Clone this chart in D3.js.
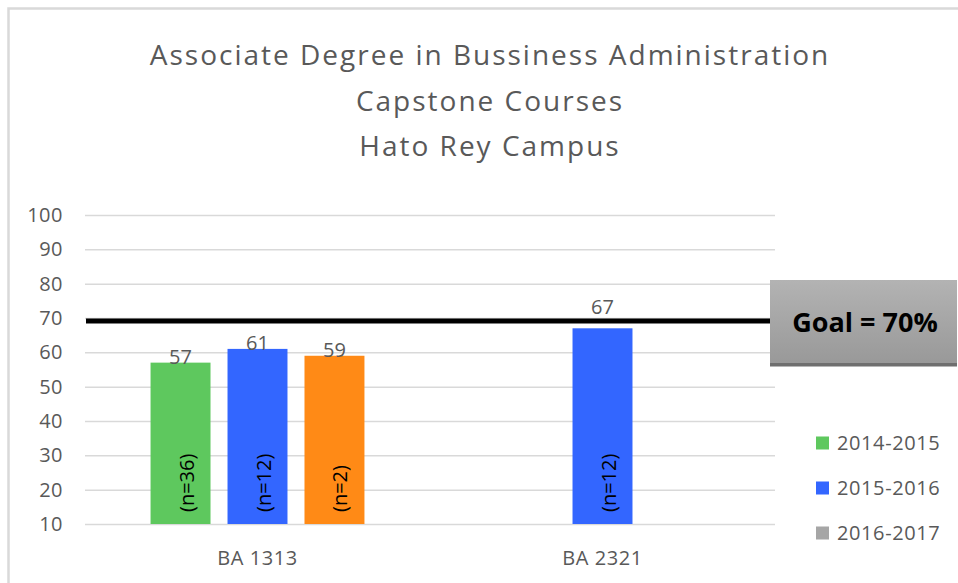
<!DOCTYPE html>
<html>
<head>
<meta charset="utf-8">
<script src="https://cdn.jsdelivr.net/npm/d3@7"></script>
<style>
  html, body { margin: 0; padding: 0; background: #fff; }
  svg { display: block; font-family: "Open Sans", Lato, sans-serif; }
</style>
</head>
<body>
<svg id="chart"></svg>
<script>
// chart data
const categories = ["BA 1313", "BA 2321"];
const seriesNames = ["2014-2015", "2015-2016", "2016-2017"];
const values2014 = [57, null];
const values2015 = [61, 67];
const values2016 = [59, null];
const counts2014 = [36, null];
const counts2015 = [12, 12];
const counts2016 = [2, null];
const yTicks = [10, 20, 30, 40, 50, 60, 70, 80, 90, 100];
const titleLines = ["Associate Degree in Bussiness Administration", "Capstone Courses", "Hato Rey Campus"];
const goalLabel = "Goal = 70%";
const goalLineValue = 69.1; // where the drawn goal line sits

// colours
const legendColors = ["#5ec85e", "#3366ff", "#a6a6a6"];
const barColors = ["#5ec85e", "#3366ff", "#ff8a16"]; // 2016-2017 bar recoloured orange in the source
const textGray = "#595959";

const width = 958, height = 583;
const svg = d3.select("#chart").attr("width", width).attr("height", height);

// plot area
const plot = { left: 85, right: 775, top: 215, bottom: 524 };

const x = d3.scaleBand()
  .domain(categories)
  .range([plot.left, plot.right])
  .paddingInner(0.38)
  .paddingOuter(0.19);

const xInner = d3.scaleBand()
  .domain(seriesNames)
  .range([0, x.bandwidth()])
  .paddingInner(0.221);

const y = d3.scaleLinear()
  .domain([10, 100])
  .range([plot.bottom, plot.top]);

// outer chart border
svg.append("rect")
  .attr("x", 8.5).attr("y", 8.5)
  .attr("width", width + 20).attr("height", height + 20)
  .attr("fill", "none")
  .attr("stroke", "#d9d9d9")
  .attr("stroke-width", 2.5);

// title
svg.append("g").selectAll("text")
  .data(titleLines)
  .join("text")
  .attr("x", 490)
  .attr("y", (d, i) => 65 + i * 45.5)
  .attr("text-anchor", "middle")
  .attr("fill", textGray)
  .style("font-size", "28px")
  .style("letter-spacing", "2px")
  .text(d => d);

// y axis with gridlines
const yAxis = d3.axisLeft(y)
  .tickValues(yTicks)
  .tickSize(-(plot.right - plot.left))
  .tickPadding(22);

const axisG = svg.append("g")
  .attr("transform", `translate(${plot.left},0)`)
  .call(yAxis);
axisG.select(".domain").remove();
axisG.selectAll(".tick line").attr("stroke", "#d9d9d9").attr("stroke-width", 1.5);
axisG.selectAll(".tick text")
  .attr("fill", textGray)
  .style("font-size", "20px")
  .style("letter-spacing", "0.5px")
  .style("font-family", "'Open Sans', Lato, sans-serif");

// category labels
svg.append("g").selectAll("text")
  .data(categories)
  .join("text")
  .attr("x", d => x(d) + x.bandwidth() / 2)
  .attr("y", 565)
  .attr("text-anchor", "middle")
  .attr("fill", textGray)
  .style("font-size", "20px")
  .style("letter-spacing", "0.6px")
  .text(d => d);

// flatten bars
const allValues = [values2014, values2015, values2016];
const allCounts = [counts2014, counts2015, counts2016];
const labelLift = [[0, null], [0, 15], [0, null]]; // "67" was moved above the goal line
const bars = [];
seriesNames.forEach((s, si) => {
  categories.forEach((c, ci) => {
    const v = allValues[si][ci];
    if (v == null) return;
    bars.push({ series: s, si, cat: c, value: v, n: allCounts[si][ci], lift: labelLift[si][ci] });
  });
});

const barG = svg.append("g");
barG.selectAll("rect")
  .data(bars)
  .join("rect")
  .attr("x", d => x(d.cat) + xInner(d.series))
  .attr("y", d => y(d.value))
  .attr("width", xInner.bandwidth())
  .attr("height", d => y(10) - y(d.value))
  .attr("fill", d => barColors[d.si]);

// value labels
barG.selectAll("text.value")
  .data(bars)
  .join("text")
  .attr("class", "value")
  .attr("x", d => x(d.cat) + xInner(d.series) + xInner.bandwidth() / 2)
  .attr("y", d => y(d.value) + 1 - d.lift)
  .attr("text-anchor", "middle")
  .attr("fill", textGray)
  .style("font-size", "20px")
  .text(d => d.value);

// n labels inside the bars, rotated
barG.selectAll("text.count")
  .data(bars)
  .join("text")
  .attr("class", "count")
  .attr("transform", d => `translate(${x(d.cat) + xInner(d.series) + xInner.bandwidth() / 2 + 13},${y(10) - 12}) rotate(-90)`)
  .attr("text-anchor", "start")
  .attr("fill", "#000")
  .style("font-size", "20px")
  .text(d => `(n=${d.n})`);

// goal line
svg.append("line")
  .attr("x1", plot.left + 1)
  .attr("x2", 772)
  .attr("y1", y(goalLineValue))
  .attr("y2", y(goalLineValue))
  .attr("stroke", "#000")
  .attr("stroke-width", 5);

// goal box
const defs = svg.append("defs");
const grad = defs.append("linearGradient")
  .attr("id", "goalGrad")
  .attr("x1", 0).attr("y1", 0).attr("x2", 0).attr("y2", 1);
grad.append("stop").attr("offset", "0%").attr("stop-color", "#b3b3b3");
grad.append("stop").attr("offset", "100%").attr("stop-color", "#999999");

const goalG = svg.append("g");
goalG.append("rect")
  .attr("x", 770).attr("y", 363)
  .attr("width", 187).attr("height", 3.5)
  .attr("fill", "#6f6f6f");
goalG.append("rect")
  .attr("x", 770).attr("y", 280)
  .attr("width", 187).attr("height", 83)
  .attr("fill", "url(#goalGrad)");
goalG.append("text")
  .attr("x", 865)
  .attr("y", 332)
  .attr("text-anchor", "middle")
  .attr("fill", "#000")
  .style("font-size", "27px")
  .style("font-weight", "bold")
  .text(goalLabel);

// legend
const legend = svg.append("g").attr("transform", "translate(816,443)");
const legendItem = legend.selectAll("g")
  .data(seriesNames)
  .join("g")
  .attr("transform", (d, i) => `translate(0,${i * 45})`);
legendItem.append("rect")
  .attr("x", 0).attr("y", -6.5)
  .attr("width", 13).attr("height", 13)
  .attr("fill", (d, i) => legendColors[i]);
legendItem.append("text")
  .attr("x", 21)
  .attr("y", 0)
  .attr("dy", "0.35em")
  .attr("fill", textGray)
  .style("font-size", "20px")
  .style("letter-spacing", "0.6px")
  .text(d => d);
</script>
</body>
</html>
